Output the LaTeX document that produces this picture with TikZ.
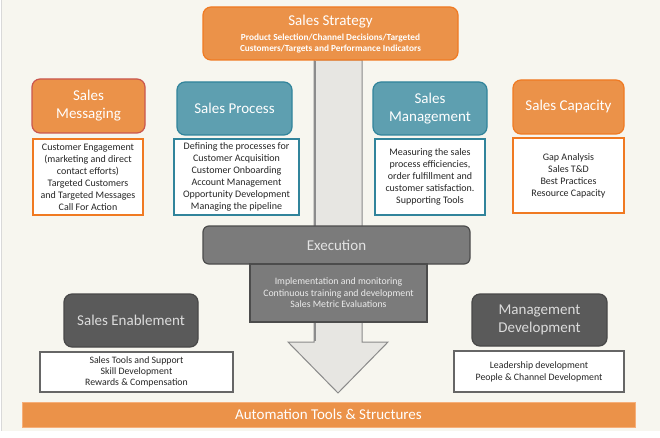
\documentclass[tikz,border=0pt]{standalone}
\usepackage{fontspec}
\setmainfont{Carlito}
\definecolor{bgc}{HTML}{F7F6EF}
\definecolor{org}{HTML}{EB9249}
\definecolor{orgb}{HTML}{F07A22}
\definecolor{redb}{HTML}{C9574F}
\definecolor{teal}{HTML}{5E9FB0}
\definecolor{tealb}{HTML}{31849B}
\definecolor{dgray}{HTML}{5A5A5A}
\definecolor{mgray}{HTML}{7B7B7B}
\definecolor{arrf}{HTML}{E7E6E2}
\definecolor{arrb}{HTML}{8A8A8A}
\definecolor{ltxt}{HTML}{DCDCDC}
\tikzset{
  hdr/.style={rounded corners=8pt, line width=1.2pt, align=center, text=white, font=\fontsize{15}{18}\selectfont, inner sep=2pt},
  orghdr/.style={hdr, fill=org, draw=orgb},
  redhdr/.style={hdr, fill=org, draw=redb},
  tealhdr/.style={hdr, fill=teal, draw=tealb},
  grayhdr/.style={hdr, fill=dgray, draw=dgray!80!black, text=ltxt},
  desc/.style={fill=white, line width=1.3pt, align=center, font=\fontsize{10}{12}\selectfont, text=black!85, inner sep=1pt},
}
\begin{document}
\begin{tikzpicture}[x=1pt,y=-1pt]
\useasboundingbox (0,0) rectangle (660,438);
\fill[white] (0,0) rectangle (660,438);
\fill[bgc] (1.5,0) rectangle (660,431);
\draw[black!15, line width=0.6pt] (1.5,0) -- (1.5,431);
% big arrow
\draw[fill=arrf, draw=arrb, line width=1pt] (314,60) -- (362,60) -- (362,342) -- (388,342) -- (338,393) -- (288,342) -- (314,342) -- cycle;
\draw[black!45, line width=1.4pt] (315,61) -- (315,341);
% top
\node[orghdr, minimum width=255pt, minimum height=53pt] (strategy) at (330.5,33.5) {};
\node[text=white, font=\fontsize{15}{17}\selectfont, inner sep=0pt] (strattitle) at (330.5,22) {Sales Strategy};
\node[text=white, font=\bfseries\fontsize{9.3}{11}\selectfont, align=center, inner sep=0pt] (stratsub) at (330.5,43.5) {Product Selection/Channel Decisions/Targeted\\Customers/Targets and Performance Indicators};
% headers row
\node[redhdr, minimum width=113pt, minimum height=54pt] (messaging) at (88.5,106) {Sales\\Messaging};
\node[desc, draw=orgb, minimum width=110pt, minimum height=76pt] (msgdesc) at (88,177) {Customer Engagement\\(marketing and direct\\contact efforts)\\Targeted Customers\\and Targeted Messages\\Call For Action};
\node[tealhdr, minimum width=115pt, minimum height=53pt] (process) at (234.5,108.5) {Sales Process};
\node[desc, draw=tealb, minimum width=125pt, minimum height=76pt] (procdesc) at (236.5,177) {Defining the processes for\\Customer Acquisition\\Customer Onboarding\\Account Management\\Opportunity Development\\Managing the pipeline};
\node[tealhdr, minimum width=114pt, minimum height=53pt] (management) at (430,108.5) {Sales\\Management};
\node[desc, draw=tealb, minimum width=110pt, minimum height=76pt] (mgmtdesc) at (430,177) {Measuring the sales\\process efficiencies,\\order fulfillment and\\customer satisfaction.\\Supporting Tools};
\node[orghdr, minimum width=111pt, minimum height=54pt] (capacity) at (568.5,107) {Sales Capacity};
\node[desc, draw=orgb, minimum width=111pt, minimum height=75pt] (capdesc) at (568.5,175.5) {Gap Analysis\\Sales T\&D\\Best Practices\\Resource Capacity};
% execution
\node[hdr, fill=mgray, draw=black!70, rounded corners=6pt, minimum width=267pt, minimum height=38pt, text=ltxt!80!white] (execution) at (336.5,245) {Execution};
\node[fill=mgray, draw=black!70, line width=1.2pt, minimum width=177pt, minimum height=58pt, align=center, text=white!92!black, font=\fontsize{9.8}{11.5}\selectfont, inner sep=1pt] (execdesc) at (338.5,293) {Implementation and monitoring\\Continuous training and development\\Sales Metric Evaluations};
% bottom row
\node[grayhdr, minimum width=134pt, minimum height=53pt] (enablement) at (131,320.5) {Sales Enablement};
\node[desc, draw=black!60, line width=1.2pt, minimum width=193pt, minimum height=40pt, font=\fontsize{9.8}{11.2}\selectfont] (enabdesc) at (136.5,372) {Sales Tools and Support\\Skill Development\\Rewards \& Compensation};
\node[grayhdr, minimum width=135pt, minimum height=52pt] (mgmtdev) at (539.5,320) {Management\\Development};
\node[desc, draw=black!60, line width=1.2pt, minimum width=170pt, minimum height=41pt, font=\fontsize{9.8}{12}\selectfont] (mdevdesc) at (539,371.5) {Leadership development\\People \& Channel Development};
% automation bar
\node[fill=org, draw=orgb!60, line width=0.6pt, minimum width=613pt, minimum height=25pt, text=white, font=\fontsize{15}{17}\selectfont, inner sep=0pt] (automation) at (328.5,414.5) {Automation Tools \& Structures};
\end{tikzpicture}
\end{document}
